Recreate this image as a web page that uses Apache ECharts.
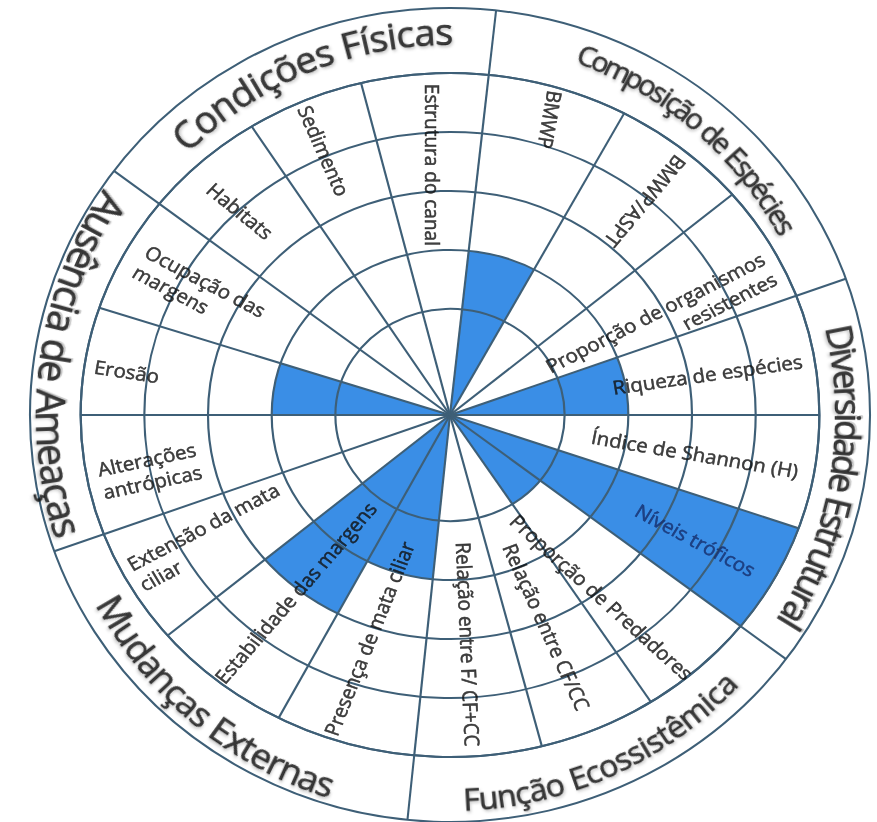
<!DOCTYPE html>
<html lang="pt-BR">
<head>
<meta charset="utf-8">
<title>Indicadores</title>
<script src="https://cdn.jsdelivr.net/npm/echarts@6.0.0/dist/echarts.min.js"></script>
<style>
  html, body { margin: 0; padding: 0; background: #fff; overflow: hidden; }
  #wrap { position: relative; width: 877px; height: 822px; overflow: hidden; }
  #outer, #inner { position: absolute; left: 0; top: 0; width: 877px; height: 822px; }
</style>
</head>
<body>
<div id="wrap"><div id="outer"></div><div id="inner"></div></div>
<script>
// indicadores, no sentido horário a partir do topo
var categories = ['BMWP', 'BMWP/ASPT', 'Proporção de organismos\nresistentes', 'Riqueza de espécies',
    'Índice de Shannon (H)', 'Níveis tróficos', 'Proporção de Predadores', 'Relação entre CF/CC',
    'Relação entre F/ CF+CC', 'Presença de mata ciliar', 'Estabilidade das margens',
    'Extensão da mata\nciliar', 'Alterações\nantrópicas', 'Erosão', 'Ocupação das\nmargens',
    'Habitats', 'Sedimento', 'Estrutura do canal'];
// início de cada setor (graus, horário a partir do topo)
var sectorStart = [6.5, 30, 52, 71, 90, 108, 126, 145, 164.5, 186, 209.5, 232, 251, 270, 287, 306, 325.5, 345];
// nível preenchido (0 = vazio)
var scores = [2, 0, 0, 2, 0, 5, 1, 0, 0, 2, 3, 0, 0, 2, 0, 0, 0, 0];
var ringLevels = [1, 2, 3, 4, 5];

var groups = ['Composição de Espécies', 'Diversidade Estrutural', 'Função Ecossistêmica',
    'Mudanças Externas', 'Ausência de Ameaças', 'Condições Físicas'];
var groupStart = [6.5, 71, 126, 186, 251, 306];

// posição dos textos: ângulo do ponto, raio (em níveis), giro, sentido de leitura
var labelLayout = [
    {a: 18.7, r: 4.45, rot: 10, dir: 'in'},
    {a: 42.4, r: 3.95, rot: 40, dir: 'in'},
    {a: 65.2, r: 4.8, rot: 63, dir: 'out', align: 'right'},
    {a: 81, r: 3.3, rot: 82, dir: 'out'},
    {a: 99, r: 3.1, rot: 99.5, dir: 'out'},
    {a: 117, r: 3.6, rot: 118, dir: 'out', color: '#17306e'},
    {a: 140.2, r: 3.1, rot: 132, dir: 'out'},
    {a: 155.5, r: 3.1, rot: 155.7, dir: 'out'},
    {a: 175.5, r: 3.1, rot: 177.5, dir: 'out'},
    {a: 199.9, r: 3.2, rot: 202, dir: 'in'},
    {a: 221, r: 3.07, rot: 221, dir: 'in'},
    {a: 243, r: 4.85, rot: 242.5, dir: 'in', align: 'left'},
    {a: 259.3, r: 4.8, rot: 258, dir: 'in', align: 'left'},
    {a: 277.7, r: 4.33, rot: 278.5, dir: 'in'},
    {a: 296.6, r: 4.72, rot: 297.8, dir: 'in', align: 'left'},
    {a: 314.2, r: 3.98, rot: 309, dir: 'in'},
    {a: 334.5, r: 4.1, rot: 336, dir: 'in'},
    {a: 356.1, r: 3.45, rot: 360, dir: 'in'}
];
// títulos curvos: ângulo da 1a e da última letra, raio (px), tamanho, letras para fora?
var groupLayout = [
    {from: 20.9, to: 60.7, r: 385, size: 28, out: true},
    {from: 78.8, to: 121.6, r: 399, size: 35, out: true},
    {from: 176.8, to: 134.3, r: 384, size: 31, out: false},
    {from: 239.6, to: 198.7, r: 388, size: 35, out: false},
    {from: 301.4, to: 253.7, r: 399, size: 39, out: false},
    {from: 316.7, to: 359.1, r: 384, size: 37, out: true}
];

var CX = 450, CY = 415;
var SX_IN = 1.08, SX_OUT = 1.032;   // a figura é levemente esticada na horizontal
var R_IN = 342, R_OUT = 407;
var R_MIN = -0.8;                   // o primeiro anel fica um pouco mais largo
var LINE = '#3e5f77', BLUE = '#3a8ee6', INK = '#111111';
var FONT = '"Open Sans"';

document.getElementById('inner').style.transform = 'scaleX(' + SX_IN + ')';
document.getElementById('outer').style.transform = 'scaleX(' + SX_OUT + ')';
document.getElementById('inner').style.transformOrigin = CX + 'px ' + CY + 'px';
document.getElementById('outer').style.transformOrigin = CX + 'px ' + CY + 'px';

// ângulo visto -> ângulo no desenho antes do esticamento horizontal
function toDesign(theta, s) {
    var t = theta * Math.PI / 180;
    var d = Math.atan2(Math.sin(t) / s, Math.cos(t)) * 180 / Math.PI;
    return d < 0 ? d + 360 : d;
}
function norm(a) {
    a = ((a % 360) + 360) % 360;
    return a > 180 ? a - 360 : a;
}

/** camada interna: anéis, setores, textos */
var inner = echarts.init(document.getElementById('inner'), null, {renderer: 'svg'});

var n = categories.length;
var sectorData = [];
for (var i = 0; i < n; i++) {
    if (scores[i] > 0) {
        sectorData.push([toDesign(sectorStart[i], SX_IN), toDesign(sectorStart[(i + 1) % n], SX_IN), scores[i]]);
    }
}
var spokeData = sectorStart.map(function (a) { return [toDesign(a, SX_IN), ringLevels[ringLevels.length - 1]]; });
var labelData = categories.map(function (c, i) {
    var L = labelLayout[i];
    var rot = toDesign(L.rot, SX_IN);
    var rho = L.dir === 'out' ? 90 - rot : 270 - rot;
    var col = L.color || INK;
    return {
        name: c,
        value: [L.r, toDesign(L.a, SX_IN)],
        label: {rotate: norm(rho), align: L.align || 'center', color: col, textBorderColor: col}
    };
});

function sectorItem(params, api) {
    var c = api.coord([R_MIN, 0]);
    var p0 = api.coord([api.value(2), api.value(0)]);
    var p1 = api.coord([api.value(2), api.value(1)]);
    var r = Math.sqrt(Math.pow(p0[0] - c[0], 2) + Math.pow(p0[1] - c[1], 2));
    var sa = Math.atan2(p0[1] - c[1], p0[0] - c[0]);
    var ea = Math.atan2(p1[1] - c[1], p1[0] - c[0]);
    if (ea < sa) ea += Math.PI * 2;
    return {
        type: 'sector',
        shape: {cx: c[0], cy: c[1], r0: 0, r: r, startAngle: sa, endAngle: ea, clockwise: true},
        style: {fill: BLUE}
    };
}
function spokeItem(params, api) {
    var a = api.value(0);
    var c = api.coord([R_MIN, a]);
    var p = api.coord([api.value(1), a]);
    return {
        type: 'line',
        shape: {x1: c[0], y1: c[1], x2: p[0], y2: p[1]},
        style: {stroke: LINE, lineWidth: 2}
    };
}

inner.setOption({
    animation: false,
    polar: {center: [CX, CY], radius: R_IN},
    angleAxis: {
        type: 'value', min: 0, max: 360, interval: 30, startAngle: 90, clockwise: true, z: 0,
        axisLine: {show: true, lineStyle: {color: LINE, width: 2}},
        axisTick: {show: false}, axisLabel: {show: false}, splitLine: {show: false},
        splitArea: {show: true, areaStyle: {color: ['#ffffff']}}
    },
    radiusAxis: {
        type: 'value', min: R_MIN, max: 5, z: 3,
        axisLine: {show: false}, axisTick: {show: false}, axisLabel: {show: false},
        splitLine: {show: true, lineStyle: {width: 2,
            color: ['rgba(0,0,0,0)', 'rgba(0,0,0,0)', LINE, LINE, LINE, LINE, LINE]}}
    },
    series: [{
        type: 'custom', coordinateSystem: 'polar', z: 2, silent: true,
        encode: {angle: 0, radius: 2},
        renderItem: sectorItem, data: sectorData
    }, {
        type: 'custom', coordinateSystem: 'polar', z: 3, silent: true,
        encode: {angle: 0, radius: 1},
        renderItem: spokeItem, data: spokeData
    }, {
        type: 'scatter', coordinateSystem: 'polar', z: 4, silent: true,
        symbolSize: 1, itemStyle: {color: 'rgba(0,0,0,0)'},
        label: {
            show: true, position: 'inside', formatter: '{b}', verticalAlign: 'middle',
            fontFamily: FONT, fontSize: 19, lineHeight: 23, textBorderWidth: 0.5
        },
        data: labelData
    }]
});

/** camada externa: círculo, divisões dos grupos e títulos curvos */
var outer = echarts.init(document.getElementById('outer'), null, {renderer: 'svg'});
var ctx = document.createElement('canvas').getContext('2d');

var charData = [];
groups.forEach(function (g, k) {
    var G = groupLayout[k];
    ctx.font = G.size + 'px ' + FONT;
    var chars = g.split('');
    var widths = chars.map(function (ch) { return ctx.measureText(ch).width; });
    var pos = [], cum = 0;
    widths.forEach(function (w) { pos.push(cum + w / 2); cum += w; });
    var p0 = pos[0], p1 = pos[pos.length - 1];
    chars.forEach(function (ch, j) {
        if (ch === ' ') return;
        var th = G.from + (pos[j] - p0) / (p1 - p0) * (G.to - G.from);
        var t = th * Math.PI / 180;
        var rd = Math.sqrt(Math.pow(G.r * Math.sin(t) / SX_OUT, 2) + Math.pow(G.r * Math.cos(t), 2));
        var ph = toDesign(th, SX_OUT);
        charData.push({
            name: ch,
            value: [rd, ph],
            label: {rotate: norm(G.out ? -ph : 180 - ph), fontSize: G.size}
        });
    });
});
var groupSpokes = groupStart.map(function (a) { return [toDesign(a, SX_OUT), R_OUT]; });

outer.setOption({
    animation: false,
    backgroundColor: '#ffffff',
    polar: {center: [CX, CY], radius: R_OUT},
    angleAxis: {
        type: 'value', min: 0, max: 360, startAngle: 90, clockwise: true,
        axisLine: {show: true, lineStyle: {color: LINE, width: 2}},
        axisTick: {show: false}, axisLabel: {show: false}, splitLine: {show: false}
    },
    radiusAxis: {
        type: 'value', min: 0, max: R_OUT,
        axisLine: {show: false}, axisTick: {show: false}, axisLabel: {show: false}, splitLine: {show: false}
    },
    series: [{
        type: 'custom', coordinateSystem: 'polar', silent: true,
        encode: {angle: 0, radius: 1},
        renderItem: function (params, api) {
            var a = api.value(0);
            var c = api.coord([0, a]);
            var p = api.coord([api.value(1), a]);
            return {type: 'line', shape: {x1: c[0], y1: c[1], x2: p[0], y2: p[1]},
                style: {stroke: LINE, lineWidth: 2}};
        },
        data: groupSpokes
    }, {
        type: 'scatter', coordinateSystem: 'polar', silent: true, z: 4,
        symbolSize: 1, itemStyle: {color: 'rgba(0,0,0,0)'},
        label: {
            show: true, position: 'inside', formatter: '{b}', align: 'center', verticalAlign: 'middle',
            fontFamily: FONT, color: INK, textBorderColor: INK, textBorderWidth: 0.6,
            textShadowColor: 'rgba(0,0,0,0.25)', textShadowBlur: 3, textShadowOffsetX: 1, textShadowOffsetY: 2
        },
        data: charData
    }]
});
</script>
</body>
</html>
